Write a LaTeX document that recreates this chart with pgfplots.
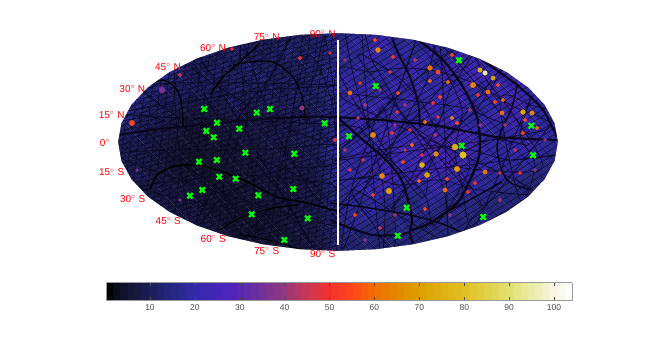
\documentclass[border=0pt]{standalone}
\usepackage{fontspec}
\setmainfont{Liberation Sans}
\usepackage{pgfplots}
\usepackage{pgfplotstable}
\pgfplotsset{compat=1.18}
\usetikzlibrary{patterns.meta}
\definecolor{gridblack}{RGB}{8,5,28}
\definecolor{crossgreen}{RGB}{0,255,0}

% hot spots: x y (pixels), value, marker radius
\pgfplotstableread{
x y m s
375 40 55 1.3
378 50 65 1.6
393 57 50 1.3
452 55 55 1.3
430 68 60 1.6
438 72 55 1.4
485 73 95 1.5
480 70 75 1.5
493 78 70 1.4
473 85 65 1.8
488 92 60 1.4
498 85 55 1.2
478 95 50 1.3
430 81 60 1.3
448 82 60 1.3
398 93 55 1.3
350 93 60 1.4
360 83 50 1.1
390 72 50 1.1
440 97 55 1.2
433 103 50 1.1
503 100 60 1.3
495 102 55 1.2
502 113 60 1.4
523 112 70 1.6
532 113 65 1.5
525 120 55 1.3
537 128 60 1.3
523 133 55 1.3
452 118 65 1.3
457 123 55 1.2
425 122 60 1.3
438 117 50 1.1
397 112 50 1.1
373 135 65 1.8
392 133 50 1.2
358 118 45 1.1
410 130 50 1.1
335 140 50 1.2
455 147 75 2.0
463 155 80 2.2
436 154 65 1.6
422 165 75 1.7
427 175 70 1.7
457 169 70 1.8
419 181 60 1.3
445 190 60 1.4
389 191 70 1.9
382 176 65 1.7
447 179 55 1.3
485 172 60 1.5
403 162 55 1.3
468 192 50 1.2
475 183 50 1.2
373 195 50 1.2
425 209 55 1.3
355 215 55 1.3
350 170 50 1.1
363 160 45 1.1
412 145 60 1.2
422 155 50 1.1
500 173 45 1.1
380 228 45 1.2
520 173 50 1.1
132 123 55 1.8
162 90 36 2.0
300 58 50 1.2
302 108 40 1.5
180 75 45 1.2
232 49 50 1.0
330 53 45 1.0
137 170 35 1.0
180 200 35 1.0
345 60 40 1.1
365 105 42 1.2
380 90 40 1.1
415 60 42 1.2
405 105 42 1.1
470 110 42 1.2
480 125 40 1.1
515 150 42 1.2
535 170 40 1.1
500 200 42 1.2
450 215 40 1.1
395 215 42 1.1
365 240 40 1.1
345 150 42 1.1
435 135 42 1.1
405 150 42 1.1
395 125 38 1.2
545 140 40 1.1
505 125 42 1.1
}\hotspots

% the green crosses
\pgfplotstableread{
x y
204.3 109
217 122.7
206.3 131
213.7 137.3
239.3 128.7
256.7 112.7
270 109
324.7 123.3
459 60.3
375.7 86
349 136.3
531.3 125.7
461.7 145.7
245.3 152.7
294.3 153.7
216.7 160
199 161.7
219.3 176.7
235.7 178.7
202.3 190
190 195.7
293.3 189
258.3 195.3
251.7 214.3
307.7 218.3
284.3 240
533 155.3
406.7 207.7
483.3 217
397.7 235.7
}\crosses

% thin dark network, one polyline per block
\pgfplotstableread{
x y
345 33
352 70
360 100
372 140
382 180
385 215
380 250

362 34
372 60
392 95
405 120
432 160
445 195
448 235

440 45
425 85
405 120
385 160
362 190
340 205

470 55
450 90
440 120
425 150
410 180
395 205

500 70
480 105
450 135
430 165
418 195

340 75
370 72
405 68
440 72
478 85
510 105
545 130

340 160
380 150
420 145
470 150
510 160
555 155

340 180
372 178
400 185
440 180
480 190
530 188

345 100
385 98
420 102
465 108
505 120

430 33
445 70
462 110
455 150
462 185
475 225

530 100
520 135
535 165
520 200

500 100
530 105
552 120

495 195
475 215
445 240

355 190
370 220
395 245

385 110
365 150
350 195
345 245

415 42
400 85
375 120
345 145

455 50
490 85
520 125
540 170

450 165
490 140
525 145

410 120
445 150
480 205

360 60
395 75
420 100
440 135
470 165

435 225
425 195
395 165
365 135
340 125

130 115
165 105
210 98
265 90
335 85

150 85
180 120
200 155
205 200
195 225

290 37
272 75
240 115
222 165
230 215
258 243

240 45
262 95
280 140
310 190
330 225

125 160
170 150
230 150
285 148
336 145

335 165
280 170
225 195
190 222

175 70
215 85
255 110
290 130
335 135

325 37
315 75
292 120
285 165
292 210
315 250

200 58
205 95
230 135
262 170
285 215

145 190
185 180
240 175
300 180
335 190

250 235
275 205
315 185

145 115
170 155
215 185
265 225

305 60
330 95
335 130
}\thinlines

\begin{document}
\begin{tikzpicture}
\begin{axis}[
    scale only axis,
    width=654pt, height=345pt,
    xmin=0, xmax=654, ymin=0, ymax=345,
    y dir=reverse,
    hide axis,
    colormap={sky}{
        rgb255(0pt)=(0,0,0)
        rgb255(5pt)=(20,22,50)
        rgb255(10pt)=(28,30,90)
        rgb255(15pt)=(38,40,130)
        rgb255(20pt)=(50,40,170)
        rgb255(28pt)=(78,35,190)
        rgb255(35pt)=(115,50,150)
        rgb255(40pt)=(150,55,125)
        rgb255(45pt)=(200,55,85)
        rgb255(50pt)=(245,50,45)
        rgb255(55pt)=(255,70,25)
        rgb255(60pt)=(240,110,0)
        rgb255(70pt)=(220,160,0)
        rgb255(80pt)=(225,190,35)
        rgb255(90pt)=(225,225,110)
        rgb255(100pt)=(245,245,225)
        rgb255(104pt)=(255,255,255)
    },
    point meta min=0.2, point meta max=104,
    colorbar horizontal,
    colorbar sampled,
    colorbar style={
        samples=65,
        scale only axis,
        width=466pt, height=18pt,
        at={(parent axis.south west)}, anchor=south west,
        xshift=106pt, yshift=53pt,
        xtick={10,20,...,100},
        tick align=inside,
        xtick pos=both,
        xticklabel pos=lower,
        major tick length=3.5pt,
        tick style={black!70, line width=0.4pt},
        axis line style={black!40, line width=0.4pt},
        tick label style={font=\fontsize{8.5}{9}\selectfont, text=black!70},
        /pgf/number format/assume math mode=true,
    },
]

% coarse brightness of the sky, row by row from the top
\addplot[matrix plot*, shader=interp, mesh/cols=33, point meta={0.8*\thisrow{z}}]
  table[row sep=\\, x expr={116+14*mod(\coordindex,33)}, y expr={30+14*floor(\coordindex/33)}] {
z\\
12\\12\\12\\12\\12\\12\\12\\12\\12\\12\\12\\12\\12\\12\\12\\12\\18\\20\\20\\20\\20\\20\\20\\20\\20\\20\\20\\20\\20\\20\\20\\20\\20\\
12\\12\\12\\12\\12\\12\\12\\12\\12\\13\\14\\15\\12\\16\\14\\17\\21\\18\\26\\22\\28\\19\\24\\22\\20\\22\\22\\22\\22\\22\\22\\22\\22\\
12\\12\\12\\12\\12\\12\\15\\17\\13\\16\\14\\12\\15\\18\\14\\16\\20\\24\\19\\29\\22\\25\\20\\27\\22\\26\\24\\24\\24\\24\\24\\24\\24\\
14\\14\\14\\14\\18\\20\\14\\12\\15\\13\\17\\14\\16\\13\\17\\15\\22\\19\\27\\21\\26\\23\\29\\20\\25\\31\\28\\24\\30\\24\\24\\24\\24\\
14\\14\\15\\18\\21\\16\\13\\16\\12\\15\\14\\17\\13\\16\\14\\18\\24\\28\\20\\26\\22\\30\\25\\23\\29\\24\\33\\26\\28\\25\\22\\22\\22\\
14\\16\\20\\17\\14\\16\\12\\14\\11\\16\\13\\15\\12\\14\\17\\15\\21\\25\\28\\19\\27\\23\\28\\24\\26\\30\\22\\29\\27\\31\\24\\20\\20\\
15\\22\\18\\15\\13\\12\\10\\9\\11\\13\\10\\14\\12\\15\\13\\16\\20\\26\\23\\29\\21\\28\\24\\31\\22\\27\\25\\23\\28\\32\\27\\22\\20\\
20\\21\\15\\13\\11\\9\\7\\7\\8\\10\\9\\11\\10\\13\\12\\15\\22\\20\\29\\24\\27\\22\\26\\24\\30\\25\\22\\27\\24\\29\\26\\24\\22\\
14\\15\\13\\11\\10\\8\\7\\6\\8\\9\\10\\9\\12\\11\\14\\13\\20\\27\\22\\25\\30\\24\\29\\31\\27\\33\\28\\22\\24\\26\\23\\25\\22\\
13\\12\\12\\10\\8\\7\\6\\7\\6\\8\\9\\10\\9\\12\\11\\14\\24\\22\\28\\26\\23\\32\\27\\33\\30\\26\\31\\25\\23\\25\\28\\22\\20\\
12\\13\\11\\10\\8\\7\\5\\6\\7\\7\\8\\9\\10\\9\\12\\11\\19\\25\\21\\30\\29\\24\\31\\26\\33\\28\\24\\27\\25\\22\\24\\20\\18\\
12\\12\\13\\10\\9\\8\\7\\6\\6\\7\\7\\9\\8\\10\\9\\12\\21\\24\\27\\23\\33\\26\\30\\28\\25\\29\\23\\21\\25\\23\\18\\18\\18\\
10\\10\\10\\11\\9\\9\\8\\7\\7\\6\\8\\7\\9\\8\\11\\10\\20\\22\\25\\28\\22\\24\\21\\26\\23\\20\\24\\22\\18\\18\\18\\18\\18\\
10\\10\\10\\10\\10\\8\\9\\7\\6\\7\\6\\8\\7\\9\\10\\12\\18\\23\\19\\24\\21\\17\\20\\22\\18\\21\\19\\18\\18\\18\\18\\18\\18\\
10\\10\\10\\10\\10\\10\\10\\8\\7\\6\\7\\6\\8\\8\\11\\10\\17\\21\\24\\20\\18\\22\\19\\17\\20\\18\\18\\18\\18\\18\\18\\18\\18\\
9\\9\\9\\9\\9\\9\\9\\9\\9\\7\\6\\7\\6\\9\\8\\11\\16\\19\\16\\20\\17\\19\\18\\18\\18\\18\\18\\18\\18\\18\\18\\18\\18\\
9\\9\\9\\9\\9\\9\\9\\9\\9\\9\\9\\9\\9\\9\\9\\9\\16\\16\\16\\16\\16\\16\\16\\16\\16\\16\\16\\16\\16\\16\\16\\16\\16\\
};

% hot spots
\addplot[scatter, only marks, mark=*, scatter src=explicit,
    scatter/use mapped color={draw=mapped color, fill=mapped color},
    visualization depends on={1.5*\thisrow{s} \as \spot},
    scatter/@pre marker code/.append style={/tikz/mark size=\spot pt}]
  table[x=x, y=y, meta=m] {\hotspots};

% fine mesh of the map: crossing hatches, denser on the dark western half
\addplot[draw=none, pattern={Lines[angle=32,distance=5.5pt,line width=0.45pt]}, pattern color=gridblack] coordinates {(100,20)(580,20)(580,265)(100,265)};
\addplot[draw=none, pattern={Lines[angle=-47,distance=6.5pt,line width=0.45pt]}, pattern color=gridblack] coordinates {(100,20)(580,20)(580,265)(100,265)};
\addplot[draw=none, pattern={Lines[angle=83,distance=7.5pt,line width=0.45pt]}, pattern color=gridblack] coordinates {(100,20)(338,20)(338,265)(100,265)};
\addplot[draw=none, pattern={Lines[angle=12,distance=4.5pt,line width=0.45pt]}, pattern color=gridblack] coordinates {(100,20)(338,20)(338,265)(100,265)};

% thin cell walls
\addplot[gridblack, line width=0.8pt, opacity=0.8, no marks, smooth, unbounded coords=jump]
  table[x=x, y=y] {\thinlines};

% thick dark arcs
\addplot[gridblack, line width=2pt, smooth, no marks] coordinates {(118,135)(160,129)(200,125)(250,120)(300,117)(333,117)(380,120)(430,125)(470,132)(497,137)(530,139)(558,140)};
\addplot[gridblack, line width=2pt, smooth, no marks] coordinates {(392,38)(398,53)(410,77)(418,103)(420,127)};
\addplot[gridblack, line width=2.2pt, smooth, no marks] coordinates {(418,40)(443,60)(463,87)(477,117)(480,145)(478,160)(470,180)(457,203)(430,223)(412,230)};
\addplot[gridblack, line width=2.2pt, smooth, no marks] coordinates {(338,118)(363,140)(383,157)(400,177)(408,200)(412,220)(410,233)(413,243)};
\addplot[gridblack, line width=2pt, smooth, no marks] coordinates {(330,220)(350,228)(373,235)(397,235)(410,232)};
\addplot[gridblack, line width=1.5pt, smooth, no marks] coordinates {(330,203)(363,207)(410,215)(440,223)(463,233)};
\addplot[gridblack, line width=2pt, smooth, no marks] coordinates {(482,60)(517,85)(543,110)(557,137)};
\addplot[gridblack, line width=1.5pt, smooth, no marks] coordinates {(517,85)(512,107)(497,145)(507,180)(533,190)};
\addplot[gridblack, line width=1.5pt, smooth, no marks] coordinates {(502,182)(473,198)(447,212)(430,223)};
\addplot[black, line width=1.4pt, smooth, no marks] coordinates {(143,88)(163,80)(177,90)(182,107)(183,127)};
\addplot[black, line width=1.4pt, smooth, no marks] coordinates {(210,95)(223,77)(240,62)(260,43)};
\addplot[black, line width=1.2pt, smooth, no marks] coordinates {(233,65)(250,62)(273,62)(293,77)(303,100)(305,120)};
\addplot[black, line width=1.5pt, smooth, no marks] coordinates {(150,190)(157,175)(173,167)(197,165)(223,172)(250,183)(277,197)(307,203)(340,212)};
\addplot[black, line width=1.2pt, smooth, no marks] coordinates {(220,230)(240,218)(273,208)(300,205)};
\addplot[black, line width=1.2pt, smooth, no marks] coordinates {(240,235)(260,238)(287,245)(307,252)};

% white page round the ellipse of the projection
\addplot[fill=white, draw=none, even odd rule] coordinates {
(90,142)(90,15)(590,15)(590,270)(90,270)(90,142)
(118,142)(121.3,123.1)(131.3,104.7)(147.5,87.5)(169.5,71.9)(196.6,58.5)(228,47.6)(262.8,39.6)(299.8,34.7)(338,33)
(376.2,34.7)(413.2,39.6)(448,47.6)(479.4,58.5)(506.5,71.9)(528.5,87.5)(544.7,104.7)(554.7,123.1)(558,142)
(554.7,160.9)(544.7,179.3)(528.5,196.5)(506.5,212.1)(479.4,225.5)(448,236.4)(413.2,244.4)(376.2,249.3)(338,251)
(299.8,249.3)(262.8,244.4)(228,236.4)(196.6,225.5)(169.5,212.1)(147.5,196.5)(131.3,179.3)(121.3,160.9)(118,142)
(90,142)};

% the white meridian
\addplot[white, line width=1.1pt, no marks] coordinates {(338,40)(338,245)};

% sources
\addplot[only marks, mark=x, mark size=3.8pt, crossgreen, line width=2.2pt]
  table[x=x, y=y] {\crosses};

% latitude labels
\tikzset{lat/.style={red, font=\fontsize{10}{10}\selectfont, inner sep=0pt}}
\node[lat] at (axis cs:322.7,34) {90$^{\circ}$ N};
\node[lat] at (axis cs:266.7,37.3) {75$^{\circ}$ N};
\node[lat] at (axis cs:213,48) {60$^{\circ}$ N};
\node[lat] at (axis cs:168,66.7) {45$^{\circ}$ N};
\node[lat] at (axis cs:132.3,88.7) {30$^{\circ}$ N};
\node[lat] at (axis cs:111.7,115) {15$^{\circ}$ N};
\node[lat] at (axis cs:105,143) {0$^{\circ}$};
\node[lat] at (axis cs:111.7,172.3) {15$^{\circ}$ S};
\node[lat] at (axis cs:132.7,198.7) {30$^{\circ}$ S};
\node[lat] at (axis cs:168.3,221) {45$^{\circ}$ S};
\node[lat] at (axis cs:213.3,239) {60$^{\circ}$ S};
\node[lat] at (axis cs:266.7,250.7) {75$^{\circ}$ S};
\node[lat] at (axis cs:322.7,254) {90$^{\circ}$ S};
\end{axis}
\path (0,0) rectangle (654pt,345pt);
\end{tikzpicture}
\end{document}
